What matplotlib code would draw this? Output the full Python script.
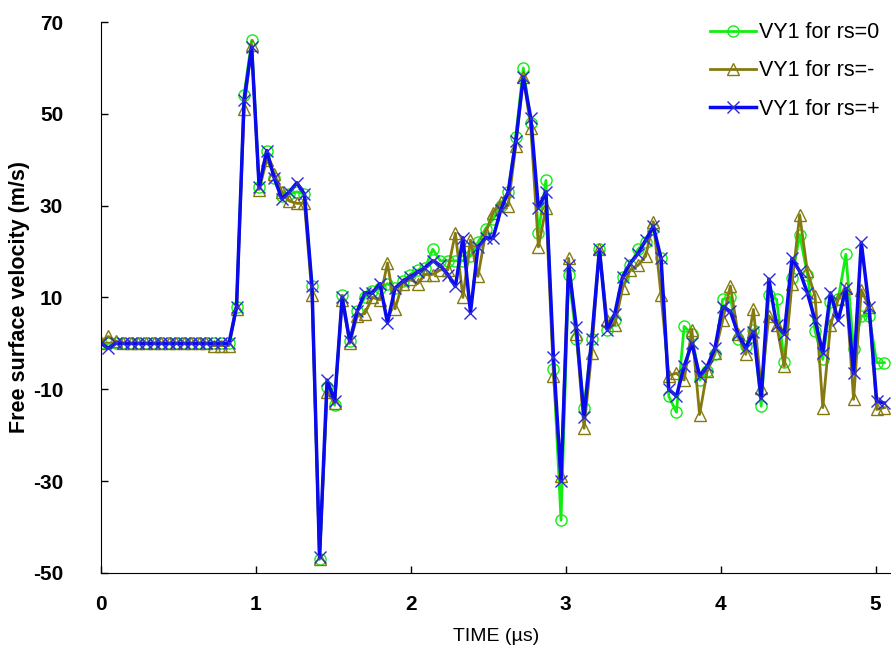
import numpy as np
import matplotlib
matplotlib.use("Agg")
import matplotlib.pyplot as plt

plt.rcParams['font.family'] = ['Liberation Sans', 'DejaVu Sans']
plt.rcParams['axes.unicode_minus'] = False

# time grid (µs): output step of the code changes a little after ~3 µs
t_early = np.arange(62) * 0.0487
t_late = 2.97 + np.arange(1, 43) * 0.0497
time = np.concatenate([t_early, t_late])

# VY1 for rs=0 (green, circles)
vy_rs0 = [0, 0, 0, 0, 0, 0, 0, 0, 0, 0, 0, 0, 0, 0, 0, 0, 0, 0,
          8, 54, 66, 34, 42, 36, 32, 32.5, 33, 32.5, 12.5, -47,
          -9.5, -13.5, 10.5, 0.5, 7, 10, 11.5, 12, 13, 12, 13.5, 15,
          16, 16.5, 20.5, 18, 18, 18, 18, 19, 22, 25, 27, 30, 33, 45,
          60, 48, 24, 35.5, -5.5, -38.5,
          15, 1, -14, 1, 20.5, 3, 5, 14.5, 17, 20.5, 22, 25,
          18.5, -11.5, -15, 3.7, 2, -8, -6, -2.4, 9.6, 10, 1, -0.6,
          3, -13.7, 10.6, 9.6, -4, 14.3, 23.7, 15, 2.7, -3.5, 9, 9.6,
          19.4, -1.3, 6, 6, -4.2, -4.2]

# VY1 for rs=- (olive, triangles)
vy_rsm = [0, 1.5, 0.5, 0, 0, 0, 0, 0, 0, 0, 0, 0, 0, 0, 0, -0.5, -0.5, -0.5,
          7.5, 51, 65, 33.5, 40, 37, 33, 31, 30.5, 30.5, 10.5, -47,
          -10.5, -13, 9.5, 0, 6, 6.5, 10, 9.5, 17.5, 7.5, 13, 14,
          13, 15, 15, 16, 16, 24, 10, 22.5, 14.6, 24, 28.5, 30.7, 30, 43,
          58, 47, 21, 29.5, -7, -29,
          18.5, 2, -18.5, -2, 20.5, 5, 4, 12, 16, 17, 19, 26.5,
          10.5, -7, -6.5, -8, 3, -15.5, -6, -2, 5, 12.5, 2, -2.4,
          7.4, -9.7, 6, 4, -5, 13, 28, 15.7, 10.3, -14, 4, 9.6,
          12, -12.2, 11.7, 8, -14.4, -14]

# VY1 for rs=+ (blue, crosses)
vy_rsp = [0, -1, 0, 0, 0, 0, 0, 0, 0, 0, 0, 0, 0, 0, 0, 0, 0, 0,
          8, 53, 64.5, 34, 42, 36, 31.5, 33, 35, 32.5, 12.5, -46.5,
          -8, -12.5, 10, 0.5, 7, 11, 11, 13, 4.5, 12, 13.5, 14.5,
          15.5, 16.5, 18, 17, 15, 12.4, 23, 6.7, 21, 23, 23, 29, 33, 44,
          58, 49, 29.5, 33, -3, -30,
          17, 3.5, -16, 1, 20.5, 3, 6.5, 14.5, 17.5, 19.5, 22.5, 25.5,
          18.5, -10, -11.5, -5, 0, -7, -5, -1, 8, 7, 2, -1,
          2.5, -12, 14, 4, 2, 18.5, 15.7, 11, 5, -2, 11, 5,
          12, -6.5, 22, 8, -12.6, -13]

fig = plt.figure(figsize=(8.91, 6.57), dpi=100)
ax = fig.add_axes([0.113, 0.128, 0.887, 0.8385])

ax.plot(time, vy_rs0, color='#11ee11', lw=2, marker='o', ms=8,
        mfc='none', mec='#11ee11', mew=1, label='VY1 for rs=0')
ax.plot(time, vy_rsm, color='#857a10', lw=2, marker='^', ms=9,
        mfc='none', mec='#857a10', mew=1, label='VY1 for rs=-')
ax.plot(time, vy_rsp, color='#0a0aee', lw=2.5, marker='x', ms=8,
        mec='#2a2ad8', mew=1, label='VY1 for rs=+')

ax.set_xlim(0, 5.1)
ax.set_ylim(-50, 70)
ax.set_xticks([0, 1, 2, 3, 4, 5])
ax.set_yticks([-50, -30, -10, 10, 30, 50, 70])
ax.spines['top'].set_visible(False)
ax.spines['right'].set_visible(False)
ax.tick_params(axis='both', direction='in', length=5, width=1,
               labelsize=15)
ax.tick_params(axis='x', pad=16)
ax.tick_params(axis='y', pad=27)
for lab in ax.get_xticklabels() + ax.get_yticklabels():
    lab.set_fontweight('bold')

ax.set_xlabel('TIME (µs)', fontsize=14, labelpad=10)
ax.set_ylabel('Free surface velocity (m/s)', fontsize=15.5,
              fontweight='bold', labelpad=2)

ax.legend(loc='upper right', bbox_to_anchor=(1.01, 1.035), frameon=False,
          fontsize=15.5, handlelength=2.1, handletextpad=0.15,
          labelspacing=0.8)

fig.savefig('out.png', dpi=100)
